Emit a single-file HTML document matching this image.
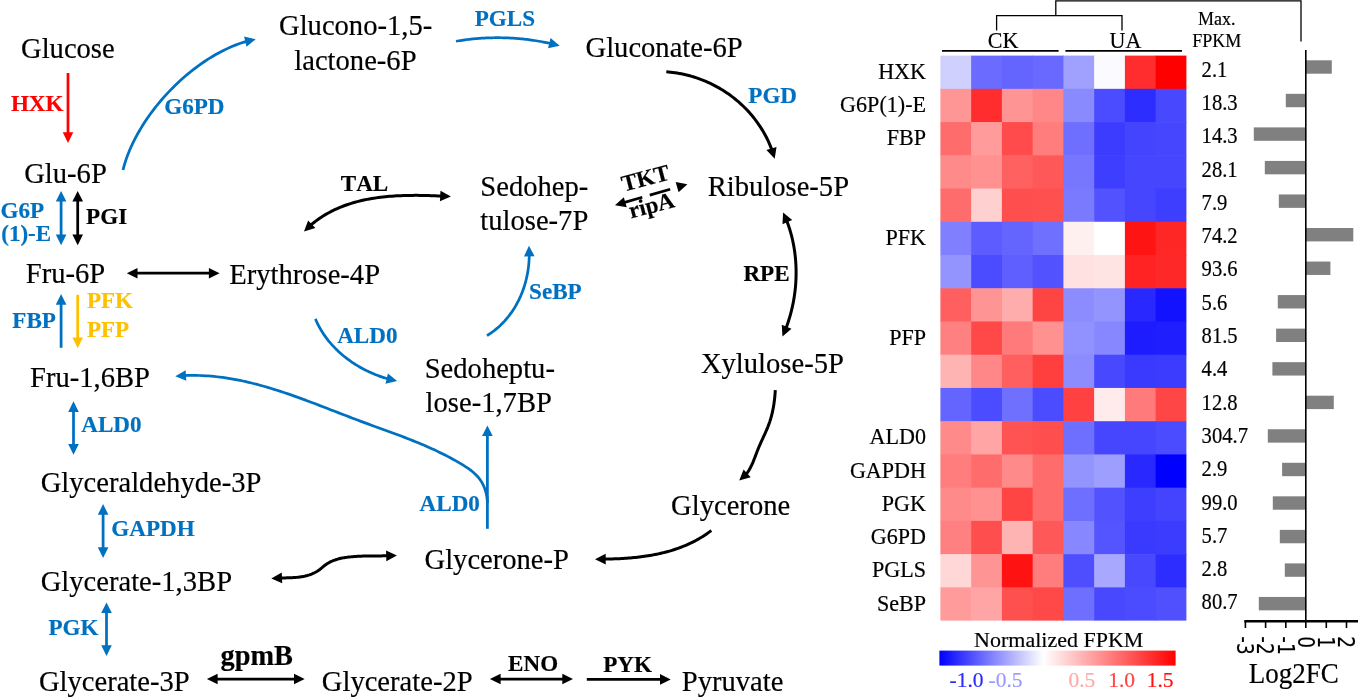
<!DOCTYPE html>
<html lang="en"><head><meta charset="utf-8"><title>Pathway and heatmap</title>
<style>
html,body{margin:0;padding:0;background:#fff}
svg{display:block}
.ts{font-family:"Liberation Serif","Times New Roman",serif}
.ss{font-family:"Liberation Sans",Arial,sans-serif}
.dj{font-family:"DejaVu Sans","Liberation Sans",sans-serif}
.b{font-weight:bold}
text{font-kerning:none;stroke-width:.18px}
</style></head><body>
<svg width="1358" height="700" viewBox="0 0 1358 700">
<rect width="1358" height="700" fill="#fff"/>
<text class="ts" transform="translate(21 58.3) scale(1 1.05)" font-size="28.6" stroke="#000">Glucose</text>
<text class="ts" transform="translate(24.2 182.8) scale(1 1.05)" font-size="28.6" stroke="#000">Glu-6P</text>
<text class="ts" transform="translate(25.8 283) scale(1 1.05)" font-size="28.6" stroke="#000">Fru-6P</text>
<text class="ts" transform="translate(30 387.3) scale(1 1.05)" font-size="28.6" stroke="#000">Fru-1,6BP</text>
<text class="ts" transform="translate(40.7 492) scale(1 1.05)" font-size="28.6" stroke="#000">Glyceraldehyde-3P</text>
<text class="ts" transform="translate(40.7 591.2) scale(1 1.05)" font-size="28.6" stroke="#000">Glycerate-1,3BP</text>
<text class="ts" transform="translate(38.9 690.6) scale(1 1.05)" font-size="28.6" stroke="#000">Glycerate-3P</text>
<text class="ts" transform="translate(279 35.1) scale(1 1.05)" font-size="28.6" stroke="#000">Glucono-1,5-</text>
<text class="ts" transform="translate(294.3 69.7) scale(1 1.05)" font-size="28.6" stroke="#000">lactone-6P</text>
<text class="ts" transform="translate(585.5 56.6) scale(1 1.05)" font-size="28.6" stroke="#000">Gluconate-6P</text>
<text class="ts" transform="translate(229.2 284.3) scale(1 1.05)" font-size="28.6" stroke="#000">Erythrose-4P</text>
<text class="ts" transform="translate(480.3 195.9) scale(1 1.05)" font-size="28.6" stroke="#000">Sedohep-</text>
<text class="ts" transform="translate(480.3 229.9) scale(1 1.05)" font-size="28.6" stroke="#000">tulose-7P</text>
<text class="ts" transform="translate(707.7 195.5) scale(1 1.05)" font-size="28.6" stroke="#000">Ribulose-5P</text>
<text class="ts" transform="translate(424.7 378) scale(1 1.05)" font-size="28.6" stroke="#000">Sedoheptu-</text>
<text class="ts" transform="translate(425.6 411.6) scale(1 1.05)" font-size="28.6" stroke="#000">lose-1,7BP</text>
<text class="ts" transform="translate(700.9 373.3) scale(1 1.05)" font-size="28.6" stroke="#000">Xylulose-5P</text>
<text class="ts" transform="translate(671.1 515.3) scale(1 1.05)" font-size="28.6" stroke="#000">Glycerone</text>
<text class="ts" transform="translate(424.5 569.3) scale(1 1.05)" font-size="28.6" stroke="#000">Glycerone-P</text>
<text class="ts" transform="translate(321.8 691) scale(1 1.05)" font-size="28.6" stroke="#000">Glycerate-2P</text>
<text class="ts" transform="translate(681.8 691.1) scale(1 1.05)" font-size="28.6" stroke="#000">Pyruvate</text>
<text class="ts b" transform="translate(10.9 110.8) scale(1 1.04)" font-size="23.1" fill="#FF0000" stroke="#FF0000">HXK</text>
<text class="ts b" transform="translate(164.2 114) scale(1 1.04)" font-size="23.1" fill="#0070C0" stroke="#0070C0">G6PD</text>
<text class="ts b" transform="translate(0.5 218.3) scale(1 1.04)" font-size="23.1" fill="#0070C0" stroke="#0070C0">G6P</text>
<text class="ts b" transform="translate(1.2 241) scale(1 1.04)" font-size="23.1" fill="#0070C0" stroke="#0070C0">(1)-E</text>
<text class="ts b" transform="translate(86.1 223.9) scale(1 1.04)" font-size="23.1" stroke="#000">PGI</text>
<text class="ts b" transform="translate(12.3 328) scale(1 1.04)" font-size="23.1" fill="#0070C0" stroke="#0070C0">FBP</text>
<text class="ts b" transform="translate(86.9 308.4) scale(1 1.04)" font-size="23.1" fill="#FFC000" stroke="#FFC000">PFK</text>
<text class="ts b" transform="translate(86.9 336.8) scale(1 1.04)" font-size="23.1" fill="#FFC000" stroke="#FFC000">PFP</text>
<text class="ts b" transform="translate(81.3 432.2) scale(1 1.04)" font-size="23.1" fill="#0070C0" stroke="#0070C0">ALD0</text>
<text class="ts b" transform="translate(111.3 535.6) scale(1 1.04)" font-size="23.1" fill="#0070C0" stroke="#0070C0">GAPDH</text>
<text class="ts b" transform="translate(48.5 635.4) scale(1 1.04)" font-size="23.1" fill="#0070C0" stroke="#0070C0">PGK</text>
<text class="ts b" transform="translate(474.7 26.1) scale(1 1.04)" font-size="23.1" fill="#0070C0" stroke="#0070C0">PGLS</text>
<text class="ts b" transform="translate(748.3 103) scale(1 1.04)" font-size="23.1" fill="#0070C0" stroke="#0070C0">PGD</text>
<text class="ts b" transform="translate(340.8 190.6) scale(1 1.04)" font-size="23.1" stroke="#000">TAL</text>
<text class="ts b" transform="translate(529.1 299) scale(1 1.04)" font-size="23.1" fill="#0070C0" stroke="#0070C0">SeBP</text>
<text class="ts b" transform="translate(337.2 343.1) scale(1 1.04)" font-size="23.1" fill="#0070C0" stroke="#0070C0">ALD0</text>
<text class="ts b" transform="translate(419.6 511) scale(1 1.04)" font-size="23.1" fill="#0070C0" stroke="#0070C0">ALD0</text>
<text class="ts b" transform="translate(743.4 280.6) scale(1 1.04)" font-size="23.1" stroke="#000">RPE</text>
<text class="ts b" transform="translate(508.1 670.5) scale(1 1.04)" font-size="23.1" stroke="#000">ENO</text>
<text class="ts b" transform="translate(603.2 671.7) scale(1 1.04)" font-size="23.1" stroke="#000">PYK</text>
<text class="ts b" transform="translate(220.6 665.3) scale(1 1.03)" font-size="28.3" stroke="#000">gpmB</text>
<text class="ts b" x="623.7" y="191.7" font-size="23.1" stroke="#000" transform="rotate(-14.5 623.7 191.7)">TKT</text>
<text class="ts b" x="631" y="218.4" font-size="23.1" stroke="#000" transform="rotate(-14.5 631 218.4)">ripA</text>
<polygon points="68,143 62.7,132.3 73.3,132.3" fill="#FF0000"/>
<path d="M68 73 L68 134" fill="none" stroke="#FF0000" stroke-width="2.75"/>
<polygon points="61.1,245.2 55.8,234.5 66.4,234.5" fill="#0070C0"/>
<polygon points="61.1,190.9 66.4,201.6 55.8,201.6" fill="#0070C0"/>
<path d="M61.1 199.9 L61.1 236.2" fill="none" stroke="#0070C0" stroke-width="2.75"/>
<polygon points="77.7,245.2 72.4,234.5 83,234.5" fill="#000000"/>
<polygon points="77.7,190.9 83,201.6 72.4,201.6" fill="#000000"/>
<path d="M77.7 199.9 L77.7 236.2" fill="none" stroke="#000000" stroke-width="2.75"/>
<polygon points="219.6,273.2 208.9,278.5 208.9,267.9" fill="#000000"/>
<polygon points="126.8,273.2 137.5,267.9 137.5,278.5" fill="#000000"/>
<path d="M135.8 273.2 L210.6 273.2" fill="none" stroke="#000000" stroke-width="2.75"/>
<polygon points="61.1,294 66.4,304.7 55.8,304.7" fill="#0070C0"/>
<path d="M61.1 347.8 L61.1 303" fill="none" stroke="#0070C0" stroke-width="2.75"/>
<polygon points="77.7,348.2 72.4,337.5 83,337.5" fill="#FFC000"/>
<path d="M77.7 294.8 L77.7 339.2" fill="none" stroke="#FFC000" stroke-width="2.75"/>
<polygon points="73.5,454.8 68.2,444.1 78.8,444.1" fill="#0070C0"/>
<polygon points="73.5,401.2 78.8,411.9 68.2,411.9" fill="#0070C0"/>
<path d="M73.5 410.2 L73.5 445.8" fill="none" stroke="#0070C0" stroke-width="2.75"/>
<polygon points="103.1,557.9 97.8,547.2 108.4,547.2" fill="#0070C0"/>
<polygon points="103.1,504.1 108.4,514.8 97.8,514.8" fill="#0070C0"/>
<path d="M103.1 513.1 L103.1 548.9" fill="none" stroke="#0070C0" stroke-width="2.75"/>
<polygon points="106.5,655.9 101.2,645.2 111.8,645.2" fill="#0070C0"/>
<polygon points="106.5,602.4 111.8,613.1 101.2,613.1" fill="#0070C0"/>
<path d="M106.5 611.4 L106.5 646.9" fill="none" stroke="#0070C0" stroke-width="2.75"/>
<polygon points="304.7,679 294,684.3 294,673.7" fill="#000000"/>
<polygon points="206.9,679 217.6,673.7 217.6,684.3" fill="#000000"/>
<path d="M215.9 679 L295.7 679" fill="none" stroke="#000000" stroke-width="2.75"/>
<polygon points="573,679 562.3,684.3 562.3,673.7" fill="#000000"/>
<polygon points="489.9,679 500.6,673.7 500.6,684.3" fill="#000000"/>
<path d="M498.9 679 L564 679" fill="none" stroke="#000000" stroke-width="2.75"/>
<polygon points="670.7,679.4 660,684.7 660,674.1" fill="#000000"/>
<path d="M586.8 679.4 L661.7 679.4" fill="none" stroke="#000000" stroke-width="2.75"/>
<polygon points="487.4,425.4 492.7,436.1 482.1,436.1" fill="#0070C0"/>
<path d="M487.4 528.8 L487.4 434.4" fill="none" stroke="#0070C0" stroke-width="2.75"/>
<polygon points="255.7,39.2 246.52,46.83 244.06,36.52" fill="#0070C0"/>
<path d="M123 170 L123.73 167.18 L124.54 164.35 L125.42 161.51 L126.38 158.66 L127.41 155.81 L128.51 152.96 L129.68 150.1 L130.92 147.25 L132.23 144.39 L133.61 141.54 L135.05 138.69 L136.55 135.85 L138.12 133.02 L139.74 130.2 L141.43 127.39 L143.17 124.59 L144.97 121.8 L146.82 119.04 L148.73 116.29 L150.69 113.56 L152.7 110.85 L154.76 108.16 L156.87 105.5 L159.03 102.86 L161.23 100.25 L163.47 97.68 L165.75 95.13 L168.08 92.61 L170.45 90.13 L172.85 87.69 L175.29 85.28 L177.77 82.91 L180.28 80.59 L182.82 78.3 L185.39 76.06 L187.99 73.87 L190.63 71.72 L193.28 69.62 L195.97 67.57 L198.67 65.58 L201.4 63.64 L204.16 61.75 L206.93 59.92 L209.72 58.15 L212.52 56.45 L215.34 54.8 L218.18 53.22 L221.03 51.7 L223.89 50.25 L226.76 48.87 L229.64 47.56 L232.52 46.32 L235.42 45.15 L238.31 44.06 L241.21 43.05 L244.11 42.12 L246.95 41.28" fill="none" stroke="#0070C0" stroke-width="2.75"/>
<polygon points="559.7,45.7 548.05,48.34 550.54,38.04" fill="#0070C0"/>
<path d="M456 41.25 L457.49 41 L458.99 40.75 L460.48 40.52 L461.98 40.29 L463.48 40.08 L464.98 39.87 L466.48 39.68 L467.99 39.49 L469.49 39.31 L471 39.15 L472.5 38.99 L474.01 38.84 L475.52 38.7 L477.03 38.57 L478.54 38.45 L480.05 38.33 L481.57 38.23 L483.08 38.14 L484.59 38.05 L486.11 37.98 L487.62 37.91 L489.14 37.86 L490.65 37.81 L492.17 37.78 L493.68 37.75 L495.2 37.73 L496.71 37.72 L498.23 37.72 L499.75 37.73 L501.26 37.75 L502.78 37.78 L504.3 37.82 L505.81 37.86 L507.33 37.92 L508.84 37.98 L510.36 38.06 L511.87 38.14 L513.38 38.24 L514.9 38.34 L516.41 38.45 L517.92 38.57 L519.43 38.7 L520.94 38.84 L522.45 38.99 L523.96 39.15 L525.46 39.32 L526.97 39.49 L528.48 39.68 L529.98 39.87 L531.48 40.08 L532.98 40.29 L534.48 40.51 L535.98 40.74 L537.48 40.99 L538.97 41.24 L540.46 41.49 L541.96 41.76 L543.45 42.04 L544.93 42.33 L546.42 42.62 L547.9 42.93 L549.39 43.24 L550.87 43.57 L550.95 43.59" fill="none" stroke="#0070C0" stroke-width="2.75"/>
<polygon points="774.7,158.7 766.4,150.12 776.5,146.9" fill="#000000"/>
<path d="M666.3 71.8 L668.47 71.97 L670.63 72.18 L672.79 72.43 L674.94 72.71 L677.08 73.04 L679.21 73.4 L681.33 73.8 L683.45 74.24 L685.55 74.71 L687.64 75.22 L689.72 75.77 L691.79 76.35 L693.85 76.97 L695.9 77.63 L697.93 78.32 L699.95 79.04 L701.95 79.8 L703.94 80.59 L705.92 81.42 L707.88 82.28 L709.82 83.17 L711.75 84.1 L713.65 85.05 L715.55 86.05 L717.42 87.07 L719.28 88.12 L721.11 89.21 L722.93 90.32 L724.73 91.47 L726.51 92.65 L728.26 93.85 L730 95.09 L731.71 96.35 L733.4 97.65 L735.07 98.97 L736.71 100.32 L738.33 101.7 L739.93 103.11 L741.5 104.54 L743.05 106 L744.57 107.49 L746.06 109.01 L747.53 110.55 L748.97 112.11 L750.38 113.71 L751.77 115.32 L753.12 116.96 L754.45 118.63 L755.75 120.32 L757.01 122.03 L758.25 123.77 L759.45 125.53 L760.63 127.32 L761.77 129.12 L762.88 130.95 L763.95 132.8 L764.99 134.67 L766 136.57 L766.98 138.48 L767.91 140.41 L768.82 142.37 L769.68 144.34 L770.51 146.34 L771.31 148.35 L771.97 150.13" fill="none" stroke="#000000" stroke-width="3"/>
<polygon points="450.9,196.5 439.95,201.27 440.47,190.68" fill="#000000"/>
<polygon points="304,231.6 308.1,220.39 315.4,228.07" fill="#000000"/>
<path d="M310.52 225.4 L310.76 225.19 L312.51 223.71 L314.29 222.27 L316.09 220.89 L317.91 219.55 L319.76 218.25 L321.63 217.01 L323.52 215.8 L325.43 214.64 L327.37 213.52 L329.32 212.44 L331.29 211.4 L333.28 210.41 L335.29 209.45 L337.31 208.54 L339.36 207.66 L341.42 206.81 L343.49 206.01 L345.58 205.24 L347.69 204.51 L349.81 203.81 L351.94 203.15 L354.09 202.51 L356.25 201.91 L358.42 201.35 L360.6 200.81 L362.79 200.31 L365 199.83 L367.21 199.38 L369.43 198.96 L371.67 198.57 L373.91 198.21 L376.15 197.87 L378.41 197.55 L380.67 197.26 L382.94 197 L385.21 196.75 L387.48 196.53 L389.77 196.34 L392.05 196.16 L394.34 196 L396.63 195.86 L398.92 195.74 L401.21 195.64 L403.51 195.56 L405.8 195.49 L408.1 195.44 L410.39 195.4 L412.68 195.38 L414.97 195.37 L417.26 195.37 L419.55 195.39 L421.83 195.42 L424.11 195.46 L426.38 195.51 L428.64 195.57 L430.91 195.63 L433.16 195.71 L435.41 195.79 L437.65 195.88 L439.88 195.97 L441.91 196.06" fill="none" stroke="#000000" stroke-width="3"/>
<polygon points="782.5,336.6 781.71,324.69 791.5,328.75" fill="#000000"/>
<polygon points="783.1,212.4 792.21,220.12 782.48,224.32" fill="#000000"/>
<path d="M786.67 220.66 L786.74 220.85 L787.4 222.58 L788.03 224.31 L788.64 226.05 L789.22 227.8 L789.78 229.57 L790.31 231.33 L790.82 233.11 L791.31 234.9 L791.77 236.69 L792.21 238.49 L792.62 240.29 L793.01 242.11 L793.38 243.93 L793.72 245.75 L794.04 247.58 L794.34 249.41 L794.61 251.25 L794.86 253.1 L795.09 254.95 L795.29 256.8 L795.48 258.65 L795.63 260.51 L795.77 262.37 L795.88 264.23 L795.97 266.1 L796.04 267.96 L796.08 269.83 L796.1 271.7 L796.1 273.57 L796.08 275.43 L796.03 277.3 L795.97 279.17 L795.88 281.04 L795.77 282.9 L795.63 284.77 L795.48 286.63 L795.3 288.49 L795.1 290.35 L794.88 292.2 L794.64 294.06 L794.37 295.9 L794.09 297.75 L793.78 299.59 L793.45 301.42 L793.1 303.25 L792.73 305.07 L792.34 306.89 L791.92 308.71 L791.49 310.51 L791.03 312.31 L790.56 314.1 L790.06 315.89 L789.54 317.67 L789 319.43 L788.44 321.2 L787.87 322.95 L787.27 324.69 L786.65 326.42 L786.01 328.15 L785.95 328.29" fill="none" stroke="#000000" stroke-width="3"/>
<polygon points="528.9,245.7 534.6,256.19 524,256.59" fill="#0070C0"/>
<path d="M487 335.6 L488.31 334.78 L489.6 333.93 L490.87 333.06 L492.12 332.17 L493.35 331.26 L494.56 330.33 L495.74 329.38 L496.91 328.41 L498.06 327.42 L499.19 326.41 L500.29 325.38 L501.38 324.33 L502.45 323.27 L503.49 322.18 L504.52 321.08 L505.52 319.96 L506.5 318.83 L507.47 317.68 L508.41 316.51 L509.33 315.33 L510.23 314.13 L511.11 312.91 L511.98 311.69 L512.81 310.44 L513.63 309.19 L514.43 307.92 L515.21 306.64 L515.97 305.34 L516.7 304.03 L517.42 302.71 L518.11 301.38 L518.78 300.04 L519.44 298.68 L520.07 297.32 L520.68 295.94 L521.27 294.56 L521.84 293.16 L522.39 291.76 L522.92 290.35 L523.42 288.93 L523.91 287.5 L524.37 286.06 L524.81 284.62 L525.24 283.17 L525.64 281.71 L526.02 280.25 L526.38 278.78 L526.71 277.3 L527.03 275.82 L527.33 274.34 L527.6 272.85 L527.85 271.36 L528.09 269.86 L528.3 268.36 L528.49 266.86 L528.66 265.35 L528.8 263.84 L528.93 262.33 L529.03 260.82 L529.12 259.31 L529.18 257.79 L529.22 256.28 L529.24 254.77 L529.24 254.69" fill="none" stroke="#0070C0" stroke-width="2.75"/>
<polygon points="397.1,381.1 385.45,383.73 387.95,373.43" fill="#0070C0"/>
<path d="M315.4 318.9 L316.01 320.33 L316.65 321.75 L317.31 323.15 L318 324.54 L318.71 325.92 L319.44 327.28 L320.2 328.62 L320.98 329.96 L321.78 331.27 L322.6 332.58 L323.44 333.87 L324.31 335.14 L325.19 336.4 L326.1 337.64 L327.02 338.87 L327.97 340.09 L328.93 341.29 L329.92 342.47 L330.92 343.64 L331.94 344.8 L332.98 345.94 L334.04 347.06 L335.11 348.17 L336.2 349.26 L337.31 350.34 L338.43 351.4 L339.57 352.44 L340.72 353.47 L341.89 354.49 L343.07 355.48 L344.27 356.46 L345.49 357.43 L346.71 358.38 L347.95 359.31 L349.21 360.23 L350.47 361.13 L351.75 362.01 L353.04 362.88 L354.34 363.73 L355.65 364.56 L356.98 365.38 L358.31 366.18 L359.66 366.96 L361.01 367.72 L362.38 368.47 L363.75 369.2 L365.13 369.92 L366.53 370.62 L367.92 371.29 L369.33 371.96 L370.75 372.6 L372.17 373.23 L373.6 373.83 L375.03 374.43 L376.47 375 L377.92 375.55 L379.37 376.09 L380.83 376.61 L382.29 377.11 L383.76 377.59 L385.23 378.06 L386.7 378.5 L388.18 378.93 L388.36 378.98" fill="none" stroke="#0070C0" stroke-width="2.75"/>
<polygon points="175.3,376.2 185.62,370.2 186.33,380.78" fill="#0070C0"/>
<path d="M487.4 503 L487.22 499.88 L486.85 496.82 L486.29 493.85 L485.54 490.95 L484.6 488.16 L483.47 485.47 L482.16 482.9 L480.65 480.46 L478.96 478.15 L477.08 475.99 L475.05 473.94 L472.88 472.01 L470.59 470.18 L468.21 468.44 L465.74 466.78 L463.22 465.17 L460.66 463.62 L458.08 462.11 L455.49 460.63 L452.89 459.18 L450.27 457.77 L447.65 456.38 L445.02 455.02 L442.37 453.7 L439.72 452.4 L437.06 451.12 L434.39 449.87 L431.71 448.64 L429.02 447.43 L426.33 446.25 L423.63 445.08 L420.92 443.94 L418.2 442.81 L415.48 441.7 L412.75 440.6 L410.02 439.52 L407.28 438.45 L404.54 437.39 L401.79 436.34 L399.04 435.3 L396.28 434.27 L393.52 433.25 L390.76 432.23 L388 431.22 L385.23 430.21 L382.46 429.2 L379.69 428.19 L376.91 427.19 L374.14 426.18 L371.37 425.17 L368.59 424.16 L365.82 423.14 L363.04 422.12 L360.27 421.09 L357.49 420.06 L354.72 419.01 L351.95 417.96 L349.18 416.9 L346.41 415.84 L343.64 414.77 L340.88 413.7 L338.11 412.63 L335.34 411.56 L332.57 410.48 L329.8 409.41 L327.03 408.34 L324.26 407.26 L321.49 406.2 L318.72 405.13 L315.94 404.07 L313.17 403.02 L310.39 401.97 L307.62 400.93 L304.84 399.9 L302.05 398.87 L299.27 397.86 L296.48 396.86 L293.7 395.86 L290.9 394.89 L288.11 393.92 L285.31 392.97 L282.51 392.04 L279.71 391.12 L276.9 390.21 L274.09 389.33 L271.28 388.46 L268.46 387.62 L265.64 386.79 L262.82 385.99 L259.99 385.21 L257.15 384.45 L254.31 383.71 L251.47 383 L248.62 382.32 L245.76 381.66 L242.9 381.03 L240.04 380.43 L237.17 379.86 L234.29 379.32 L231.41 378.81 L228.52 378.33 L225.63 377.88 L222.72 377.47 L219.82 377.1 L216.9 376.75 L213.98 376.45 L211.05 376.18 L208.12 375.95 L205.17 375.76 L202.22 375.61 L199.26 375.5 L196.3 375.43 L193.32 375.41 L190.34 375.43 L187.35 375.49 L184.35 375.6 L184.28 375.6" fill="none" stroke="#0070C0" stroke-width="2.75"/>
<polygon points="739.2,480.6 743.59,469.5 750.69,477.36" fill="#000000"/>
<path d="M775.3 390.2 L775.21 391.63 L775.11 393.06 L775 394.49 L774.88 395.93 L774.74 397.36 L774.59 398.8 L774.42 400.24 L774.24 401.67 L774.04 403.1 L773.83 404.53 L773.6 405.96 L773.35 407.39 L773.09 408.81 L772.81 410.23 L772.51 411.64 L772.19 413.05 L771.86 414.45 L771.5 415.84 L771.13 417.23 L770.73 418.62 L770.31 419.99 L769.88 421.36 L769.42 422.71 L768.94 424.06 L768.43 425.4 L767.92 426.74 L767.38 428.06 L766.83 429.38 L766.27 430.7 L765.69 432.01 L765.11 433.32 L764.52 434.63 L763.92 435.94 L763.33 437.24 L762.72 438.55 L762.12 439.85 L761.52 441.16 L760.93 442.47 L760.34 443.79 L759.75 445.11 L759.18 446.43 L758.61 447.77 L758.06 449.1 L757.52 450.45 L756.99 451.8 L756.48 453.16 L755.96 454.52 L755.45 455.87 L754.94 457.23 L754.42 458.58 L753.89 459.92 L753.35 461.26 L752.8 462.59 L752.22 463.9 L751.63 465.19 L751.01 466.47 L750.36 467.74 L749.68 468.97 L748.97 470.19 L748.22 471.38 L747.43 472.54 L746.59 473.68 L745.86 474.59" fill="none" stroke="#000000" stroke-width="3"/>
<polygon points="595,559.2 605.66,553.82 605.74,564.42" fill="#000000"/>
<path d="M711.3 530.5 L709.86 531.59 L708.4 532.66 L706.93 533.7 L705.45 534.71 L703.96 535.69 L702.45 536.65 L700.94 537.59 L699.41 538.49 L697.87 539.37 L696.33 540.23 L694.77 541.06 L693.2 541.87 L691.63 542.66 L690.04 543.42 L688.44 544.15 L686.84 544.87 L685.22 545.56 L683.6 546.23 L681.97 546.88 L680.33 547.5 L678.69 548.11 L677.03 548.69 L675.37 549.26 L673.7 549.8 L672.03 550.33 L670.34 550.83 L668.65 551.32 L666.96 551.78 L665.26 552.23 L663.55 552.66 L661.84 553.08 L660.12 553.47 L658.4 553.85 L656.67 554.22 L654.94 554.56 L653.2 554.89 L651.46 555.21 L649.72 555.51 L647.97 555.79 L646.22 556.06 L644.46 556.32 L642.7 556.56 L640.94 556.79 L639.18 557.01 L637.42 557.21 L635.65 557.4 L633.88 557.58 L632.11 557.75 L630.34 557.91 L628.57 558.05 L626.79 558.19 L625.02 558.31 L623.24 558.43 L621.47 558.53 L619.69 558.63 L617.92 558.72 L616.15 558.79 L614.37 558.86 L612.6 558.93 L610.83 558.98 L609.06 559.03 L607.3 559.07 L605.53 559.11 L604 559.13" fill="none" stroke="#000000" stroke-width="3"/>
<polygon points="396.9,555.6 386.34,561.17 386.07,550.57" fill="#000000"/>
<polygon points="271.3,578.4 281.75,572.62 282.23,583.21" fill="#000000"/>
<path d="M280.29 577.99 L281.07 577.97 L282.17 577.95 L283.28 577.93 L284.39 577.91 L285.5 577.89 L286.62 577.87 L287.73 577.84 L288.84 577.81 L289.96 577.78 L291.07 577.73 L292.18 577.68 L293.29 577.62 L294.4 577.55 L295.51 577.47 L296.61 577.37 L297.71 577.26 L298.81 577.14 L299.9 577 L300.99 576.84 L302.07 576.67 L303.15 576.47 L304.22 576.26 L305.29 576.02 L306.34 575.76 L307.4 575.48 L308.44 575.17 L309.47 574.84 L310.49 574.48 L311.51 574.09 L312.51 573.68 L313.5 573.24 L314.48 572.77 L315.44 572.26 L316.39 571.73 L317.32 571.16 L318.24 570.56 L319.14 569.93 L320.03 569.27 L320.9 568.57 L321.77 567.87 L322.63 567.16 L323.49 566.45 L324.36 565.75 L325.23 565.07 L326.12 564.43 L327.03 563.82 L327.95 563.24 L328.88 562.7 L329.83 562.18 L330.79 561.7 L331.77 561.25 L332.75 560.82 L333.75 560.42 L334.76 560.05 L335.78 559.71 L336.81 559.38 L337.84 559.08 L338.89 558.8 L339.94 558.55 L341 558.31 L342.07 558.09 L343.14 557.89 L344.22 557.7 L345.3 557.53 L346.39 557.37 L347.48 557.23 L348.57 557.1 L349.67 556.98 L350.76 556.87 L351.86 556.76 L352.96 556.67 L354.06 556.58 L355.16 556.5 L356.26 556.43 L357.36 556.36 L358.46 556.3 L359.56 556.25 L360.66 556.2 L361.76 556.15 L362.86 556.11 L363.96 556.08 L365.07 556.05 L366.17 556.02 L367.27 556 L368.37 555.98 L369.47 555.96 L370.57 555.95 L371.67 555.93 L372.77 555.92 L373.87 555.92 L374.97 555.91 L376.07 555.9 L377.18 555.9 L378.27 555.89 L379.37 555.89 L380.47 555.89 L381.57 555.88 L382.67 555.87 L383.77 555.87 L384.87 555.86 L385.96 555.85 L387.06 555.84 L387.9 555.83" fill="none" stroke="#000000" stroke-width="3"/>
<polygon points="615,205.2 623.8,197.13 626.75,207.31" fill="#000000"/>
<polygon points="687.4,184.2 678.6,192.27 675.65,182.09" fill="#000000"/>
<path d="M623 202.88 L642.3 197.28" fill="none" stroke="#000" stroke-width="2.7"/>
<path d="M649.8 195.11 L670.2 189.19" fill="none" stroke="#000" stroke-width="2.7"/>
<g>
<rect x="940.4" y="55.6" width="31.35" height="33.84" fill="#d0d0ff"/>
<rect x="971.15" y="55.6" width="31.35" height="33.84" fill="#6b6bff"/>
<rect x="1001.9" y="55.6" width="31.35" height="33.84" fill="#6464ff"/>
<rect x="1032.65" y="55.6" width="31.35" height="33.84" fill="#6969ff"/>
<rect x="1063.4" y="55.6" width="31.35" height="33.84" fill="#a0a0ff"/>
<rect x="1094.15" y="55.6" width="31.35" height="33.84" fill="#fafaff"/>
<rect x="1124.9" y="55.6" width="31.35" height="33.84" fill="#ff2d2d"/>
<rect x="1155.65" y="55.6" width="30.75" height="33.84" fill="#ff0000"/>
<rect x="940.4" y="88.84" width="31.35" height="33.84" fill="#ff9696"/>
<rect x="971.15" y="88.84" width="31.35" height="33.84" fill="#ff2d2d"/>
<rect x="1001.9" y="88.84" width="31.35" height="33.84" fill="#ff9494"/>
<rect x="1032.65" y="88.84" width="31.35" height="33.84" fill="#ff8787"/>
<rect x="1063.4" y="88.84" width="31.35" height="33.84" fill="#8a8aff"/>
<rect x="1094.15" y="88.84" width="31.35" height="33.84" fill="#4b4bff"/>
<rect x="1124.9" y="88.84" width="31.35" height="33.84" fill="#2d2dff"/>
<rect x="1155.65" y="88.84" width="30.75" height="33.84" fill="#4848ff"/>
<rect x="940.4" y="122.07" width="31.35" height="33.84" fill="#ff6c6c"/>
<rect x="971.15" y="122.07" width="31.35" height="33.84" fill="#ff9b9b"/>
<rect x="1001.9" y="122.07" width="31.35" height="33.84" fill="#ff4b4b"/>
<rect x="1032.65" y="122.07" width="31.35" height="33.84" fill="#ff7d7d"/>
<rect x="1063.4" y="122.07" width="31.35" height="33.84" fill="#6e6eff"/>
<rect x="1094.15" y="122.07" width="31.35" height="33.84" fill="#3c3cff"/>
<rect x="1124.9" y="122.07" width="31.35" height="33.84" fill="#4444ff"/>
<rect x="1155.65" y="122.07" width="30.75" height="33.84" fill="#4646ff"/>
<rect x="940.4" y="155.31" width="31.35" height="33.84" fill="#ff8a8a"/>
<rect x="971.15" y="155.31" width="31.35" height="33.84" fill="#ff9191"/>
<rect x="1001.9" y="155.31" width="31.35" height="33.84" fill="#ff6161"/>
<rect x="1032.65" y="155.31" width="31.35" height="33.84" fill="#ff5858"/>
<rect x="1063.4" y="155.31" width="31.35" height="33.84" fill="#7676ff"/>
<rect x="1094.15" y="155.31" width="31.35" height="33.84" fill="#3e3eff"/>
<rect x="1124.9" y="155.31" width="31.35" height="33.84" fill="#4646ff"/>
<rect x="1155.65" y="155.31" width="30.75" height="33.84" fill="#4646ff"/>
<rect x="940.4" y="188.54" width="31.35" height="33.84" fill="#ff6c6c"/>
<rect x="971.15" y="188.54" width="31.35" height="33.84" fill="#ffd0d0"/>
<rect x="1001.9" y="188.54" width="31.35" height="33.84" fill="#ff4e4e"/>
<rect x="1032.65" y="188.54" width="31.35" height="33.84" fill="#ff5050"/>
<rect x="1063.4" y="188.54" width="31.35" height="33.84" fill="#7a7aff"/>
<rect x="1094.15" y="188.54" width="31.35" height="33.84" fill="#5252ff"/>
<rect x="1124.9" y="188.54" width="31.35" height="33.84" fill="#4646ff"/>
<rect x="1155.65" y="188.54" width="30.75" height="33.84" fill="#3e3eff"/>
<rect x="940.4" y="221.78" width="31.35" height="33.84" fill="#8080ff"/>
<rect x="971.15" y="221.78" width="31.35" height="33.84" fill="#5c5cff"/>
<rect x="1001.9" y="221.78" width="31.35" height="33.84" fill="#6464ff"/>
<rect x="1032.65" y="221.78" width="31.35" height="33.84" fill="#7070ff"/>
<rect x="1063.4" y="221.78" width="31.35" height="33.84" fill="#fff0f0"/>
<rect x="1094.15" y="221.78" width="31.35" height="33.84" fill="#ffffff"/>
<rect x="1124.9" y="221.78" width="31.35" height="33.84" fill="#ff1414"/>
<rect x="1155.65" y="221.78" width="30.75" height="33.84" fill="#ff2626"/>
<rect x="940.4" y="255.01" width="31.35" height="33.84" fill="#9494ff"/>
<rect x="971.15" y="255.01" width="31.35" height="33.84" fill="#4b4bff"/>
<rect x="1001.9" y="255.01" width="31.35" height="33.84" fill="#5f5fff"/>
<rect x="1032.65" y="255.01" width="31.35" height="33.84" fill="#5252ff"/>
<rect x="1063.4" y="255.01" width="31.35" height="33.84" fill="#ffe1e1"/>
<rect x="1094.15" y="255.01" width="31.35" height="33.84" fill="#ffe4e4"/>
<rect x="1124.9" y="255.01" width="31.35" height="33.84" fill="#ff2323"/>
<rect x="1155.65" y="255.01" width="30.75" height="33.84" fill="#ff2828"/>
<rect x="940.4" y="288.25" width="31.35" height="33.84" fill="#ff5f5f"/>
<rect x="971.15" y="288.25" width="31.35" height="33.84" fill="#ff9494"/>
<rect x="1001.9" y="288.25" width="31.35" height="33.84" fill="#ffacac"/>
<rect x="1032.65" y="288.25" width="31.35" height="33.84" fill="#ff4444"/>
<rect x="1063.4" y="288.25" width="31.35" height="33.84" fill="#8c8cff"/>
<rect x="1094.15" y="288.25" width="31.35" height="33.84" fill="#9494ff"/>
<rect x="1124.9" y="288.25" width="31.35" height="33.84" fill="#2828ff"/>
<rect x="1155.65" y="288.25" width="30.75" height="33.84" fill="#1212ff"/>
<rect x="940.4" y="321.48" width="31.35" height="33.84" fill="#ff8080"/>
<rect x="971.15" y="321.48" width="31.35" height="33.84" fill="#ff4848"/>
<rect x="1001.9" y="321.48" width="31.35" height="33.84" fill="#ff7a7a"/>
<rect x="1032.65" y="321.48" width="31.35" height="33.84" fill="#ff9191"/>
<rect x="1063.4" y="321.48" width="31.35" height="33.84" fill="#9191ff"/>
<rect x="1094.15" y="321.48" width="31.35" height="33.84" fill="#8787ff"/>
<rect x="1124.9" y="321.48" width="31.35" height="33.84" fill="#1c1cff"/>
<rect x="1155.65" y="321.48" width="30.75" height="33.84" fill="#1e1eff"/>
<rect x="940.4" y="354.72" width="31.35" height="33.84" fill="#ffb4b4"/>
<rect x="971.15" y="354.72" width="31.35" height="33.84" fill="#ff8787"/>
<rect x="1001.9" y="354.72" width="31.35" height="33.84" fill="#ff5f5f"/>
<rect x="1032.65" y="354.72" width="31.35" height="33.84" fill="#ff3e3e"/>
<rect x="1063.4" y="354.72" width="31.35" height="33.84" fill="#8c8cff"/>
<rect x="1094.15" y="354.72" width="31.35" height="33.84" fill="#4848ff"/>
<rect x="1124.9" y="354.72" width="31.35" height="33.84" fill="#3a3aff"/>
<rect x="1155.65" y="354.72" width="30.75" height="33.84" fill="#3c3cff"/>
<rect x="940.4" y="387.95" width="31.35" height="33.84" fill="#6464ff"/>
<rect x="971.15" y="387.95" width="31.35" height="33.84" fill="#4b4bff"/>
<rect x="1001.9" y="387.95" width="31.35" height="33.84" fill="#7070ff"/>
<rect x="1032.65" y="387.95" width="31.35" height="33.84" fill="#4b4bff"/>
<rect x="1063.4" y="387.95" width="31.35" height="33.84" fill="#ff4141"/>
<rect x="1094.15" y="387.95" width="31.35" height="33.84" fill="#ffebeb"/>
<rect x="1124.9" y="387.95" width="31.35" height="33.84" fill="#ff7a7a"/>
<rect x="1155.65" y="387.95" width="30.75" height="33.84" fill="#ff4646"/>
<rect x="940.4" y="421.19" width="31.35" height="33.84" fill="#ff8a8a"/>
<rect x="971.15" y="421.19" width="31.35" height="33.84" fill="#ffa5a5"/>
<rect x="1001.9" y="421.19" width="31.35" height="33.84" fill="#ff5252"/>
<rect x="1032.65" y="421.19" width="31.35" height="33.84" fill="#ff4e4e"/>
<rect x="1063.4" y="421.19" width="31.35" height="33.84" fill="#6e6eff"/>
<rect x="1094.15" y="421.19" width="31.35" height="33.84" fill="#4646ff"/>
<rect x="1124.9" y="421.19" width="31.35" height="33.84" fill="#4646ff"/>
<rect x="1155.65" y="421.19" width="30.75" height="33.84" fill="#4b4bff"/>
<rect x="940.4" y="454.42" width="31.35" height="33.84" fill="#ff7d7d"/>
<rect x="971.15" y="454.42" width="31.35" height="33.84" fill="#ff6c6c"/>
<rect x="1001.9" y="454.42" width="31.35" height="33.84" fill="#ff8a8a"/>
<rect x="1032.65" y="454.42" width="31.35" height="33.84" fill="#ff6c6c"/>
<rect x="1063.4" y="454.42" width="31.35" height="33.84" fill="#9494ff"/>
<rect x="1094.15" y="454.42" width="31.35" height="33.84" fill="#9e9eff"/>
<rect x="1124.9" y="454.42" width="31.35" height="33.84" fill="#2828ff"/>
<rect x="1155.65" y="454.42" width="30.75" height="33.84" fill="#0000ff"/>
<rect x="940.4" y="487.66" width="31.35" height="33.84" fill="#ff8a8a"/>
<rect x="971.15" y="487.66" width="31.35" height="33.84" fill="#ff9191"/>
<rect x="1001.9" y="487.66" width="31.35" height="33.84" fill="#ff4444"/>
<rect x="1032.65" y="487.66" width="31.35" height="33.84" fill="#ff6c6c"/>
<rect x="1063.4" y="487.66" width="31.35" height="33.84" fill="#6e6eff"/>
<rect x="1094.15" y="487.66" width="31.35" height="33.84" fill="#5252ff"/>
<rect x="1124.9" y="487.66" width="31.35" height="33.84" fill="#3e3eff"/>
<rect x="1155.65" y="487.66" width="30.75" height="33.84" fill="#4444ff"/>
<rect x="940.4" y="520.89" width="31.35" height="33.84" fill="#ff8080"/>
<rect x="971.15" y="520.89" width="31.35" height="33.84" fill="#ff4e4e"/>
<rect x="1001.9" y="520.89" width="31.35" height="33.84" fill="#ffb4b4"/>
<rect x="1032.65" y="520.89" width="31.35" height="33.84" fill="#ff5858"/>
<rect x="1063.4" y="520.89" width="31.35" height="33.84" fill="#8787ff"/>
<rect x="1094.15" y="520.89" width="31.35" height="33.84" fill="#5555ff"/>
<rect x="1124.9" y="520.89" width="31.35" height="33.84" fill="#3a3aff"/>
<rect x="1155.65" y="520.89" width="30.75" height="33.84" fill="#3c3cff"/>
<rect x="940.4" y="554.13" width="31.35" height="33.84" fill="#ffd7d7"/>
<rect x="971.15" y="554.13" width="31.35" height="33.84" fill="#ff9494"/>
<rect x="1001.9" y="554.13" width="31.35" height="33.84" fill="#ff1212"/>
<rect x="1032.65" y="554.13" width="31.35" height="33.84" fill="#ff7d7d"/>
<rect x="1063.4" y="554.13" width="31.35" height="33.84" fill="#4e4eff"/>
<rect x="1094.15" y="554.13" width="31.35" height="33.84" fill="#a8a8ff"/>
<rect x="1124.9" y="554.13" width="31.35" height="33.84" fill="#4848ff"/>
<rect x="1155.65" y="554.13" width="30.75" height="33.84" fill="#2d2dff"/>
<rect x="940.4" y="587.36" width="31.35" height="33.24" fill="#ff9b9b"/>
<rect x="971.15" y="587.36" width="31.35" height="33.24" fill="#ffa5a5"/>
<rect x="1001.9" y="587.36" width="31.35" height="33.24" fill="#ff5050"/>
<rect x="1032.65" y="587.36" width="31.35" height="33.24" fill="#ff4848"/>
<rect x="1063.4" y="587.36" width="31.35" height="33.24" fill="#6e6eff"/>
<rect x="1094.15" y="587.36" width="31.35" height="33.24" fill="#4848ff"/>
<rect x="1124.9" y="587.36" width="31.35" height="33.24" fill="#4b4bff"/>
<rect x="1155.65" y="587.36" width="30.75" height="33.24" fill="#5050ff"/>
</g>
<text class="ts" transform="translate(926 78.6) scale(1 1.04)" font-size="22.1" stroke="#000" text-anchor="end">HXK</text>
<text class="ts" transform="translate(926 111.85) scale(1 1.04)" font-size="22.1" stroke="#000" text-anchor="end">G6P(1)-E</text>
<text class="ts" transform="translate(926 145.1) scale(1 1.04)" font-size="22.1" stroke="#000" text-anchor="end">FBP</text>
<text class="ts" transform="translate(926 244.85) scale(1 1.04)" font-size="22.1" stroke="#000" text-anchor="end">PFK</text>
<text class="ts" transform="translate(926 344.6) scale(1 1.04)" font-size="22.1" stroke="#000" text-anchor="end">PFP</text>
<text class="ts" transform="translate(926 444.35) scale(1 1.04)" font-size="22.1" stroke="#000" text-anchor="end">ALD0</text>
<text class="ts" transform="translate(926 477.6) scale(1 1.04)" font-size="22.1" stroke="#000" text-anchor="end">GAPDH</text>
<text class="ts" transform="translate(926 510.85) scale(1 1.04)" font-size="22.1" stroke="#000" text-anchor="end">PGK</text>
<text class="ts" transform="translate(926 544.1) scale(1 1.04)" font-size="22.1" stroke="#000" text-anchor="end">G6PD</text>
<text class="ts" transform="translate(926 577.35) scale(1 1.04)" font-size="22.1" stroke="#000" text-anchor="end">PGLS</text>
<text class="ts" transform="translate(926 610.6) scale(1 1.04)" font-size="22.1" stroke="#000" text-anchor="end">SeBP</text>
<text class="ts" transform="translate(1003 48.4) scale(1 1.04)" font-size="22" stroke="#000" text-anchor="middle">CK</text>
<text class="ts" transform="translate(1125.5 48.4) scale(1 1.04)" font-size="22" stroke="#000" text-anchor="middle">UA</text>
<path d="M942 50.8H1058.6M1065.4 50.8H1182" stroke="#000" stroke-width="1.7" fill="none"/>
<path d="M1055.8 15.6V0.8H1301V41.5M996.6 30.6V15.6H1122V30.6" stroke="#000" stroke-width="1.3" fill="none"/>
<text class="ts" x="1216.8" y="25.2" font-size="18" stroke="#000" text-anchor="middle">Max.</text>
<text class="ts" x="1216.8" y="46.8" font-size="18" stroke="#000" text-anchor="middle">FPKM</text>
<text class="ts" transform="translate(1201.6 76.6) scale(1 1.07)" font-size="20.6" stroke="#000">2.1</text>
<text class="ts" transform="translate(1201.6 109.9) scale(1 1.07)" font-size="20.6" stroke="#000">18.3</text>
<text class="ts" transform="translate(1201.6 143.2) scale(1 1.07)" font-size="20.6" stroke="#000">14.3</text>
<text class="ts" transform="translate(1201.6 176.5) scale(1 1.07)" font-size="20.6" stroke="#000">28.1</text>
<text class="ts" transform="translate(1201.6 209.8) scale(1 1.07)" font-size="20.6" stroke="#000">7.9</text>
<text class="ts" transform="translate(1201.6 243.1) scale(1 1.07)" font-size="20.6" stroke="#000">74.2</text>
<text class="ts" transform="translate(1201.6 276.4) scale(1 1.07)" font-size="20.6" stroke="#000">93.6</text>
<text class="ts" transform="translate(1201.6 309.7) scale(1 1.07)" font-size="20.6" stroke="#000">5.6</text>
<text class="ts" transform="translate(1201.6 343) scale(1 1.07)" font-size="20.6" stroke="#000">81.5</text>
<text class="ts" transform="translate(1201.6 376.3) scale(1 1.07)" font-size="20.6" stroke="#000">4.4</text>
<text class="ts" transform="translate(1201.6 409.6) scale(1 1.07)" font-size="20.6" stroke="#000">12.8</text>
<text class="ts" transform="translate(1201.6 442.9) scale(1 1.07)" font-size="20.6" stroke="#000">304.7</text>
<text class="ts" transform="translate(1201.6 476.2) scale(1 1.07)" font-size="20.6" stroke="#000">2.9</text>
<text class="ts" transform="translate(1201.6 509.5) scale(1 1.07)" font-size="20.6" stroke="#000">99.0</text>
<text class="ts" transform="translate(1201.6 542.8) scale(1 1.07)" font-size="20.6" stroke="#000">5.7</text>
<text class="ts" transform="translate(1201.6 576.1) scale(1 1.07)" font-size="20.6" stroke="#000">2.8</text>
<text class="ts" transform="translate(1201.6 609.4) scale(1 1.07)" font-size="20.6" stroke="#000">80.7</text>
<rect x="1305.8" y="60.3" width="26" height="13.4" fill="#808080"/>
<rect x="1285.8" y="93.84" width="20" height="13.4" fill="#808080"/>
<rect x="1253.8" y="127.38" width="52" height="13.4" fill="#808080"/>
<rect x="1264.8" y="160.92" width="41" height="13.4" fill="#808080"/>
<rect x="1278.8" y="194.46" width="27" height="13.4" fill="#808080"/>
<rect x="1305.8" y="228" width="47.5" height="13.4" fill="#808080"/>
<rect x="1305.8" y="261.54" width="24.6" height="13.4" fill="#808080"/>
<rect x="1277.8" y="295.08" width="28" height="13.4" fill="#808080"/>
<rect x="1276.1" y="328.62" width="29.7" height="13.4" fill="#808080"/>
<rect x="1272.4" y="362.16" width="33.4" height="13.4" fill="#808080"/>
<rect x="1305.8" y="395.7" width="28" height="13.4" fill="#808080"/>
<rect x="1267.8" y="429.24" width="38" height="13.4" fill="#808080"/>
<rect x="1282.1" y="462.78" width="23.7" height="13.4" fill="#808080"/>
<rect x="1272.8" y="496.32" width="33" height="13.4" fill="#808080"/>
<rect x="1279.8" y="529.86" width="26" height="13.4" fill="#808080"/>
<rect x="1284.8" y="563.4" width="21" height="13.4" fill="#808080"/>
<rect x="1258.8" y="596.94" width="47" height="13.4" fill="#808080"/>
<path d="M1305.8 50V628" stroke="#000" stroke-width="1.6" fill="none"/>
<path d="M1244.3 621.2H1358" stroke="#000" stroke-width="2.4" fill="none"/>
<path d="M1245.4 621V628M1265.6 621V628M1285.8 621V628M1326.3 621V628M1346.5 621V628" stroke="#000" stroke-width="1.6" fill="none"/>
<text class="dj" x="0" y="0" font-size="22.6" stroke="#000" stroke-width="0.3" transform="translate(1237.2 636.2) rotate(90) scale(0.82 1)">-3</text>
<text class="dj" x="0" y="0" font-size="22.6" stroke="#000" stroke-width="0.3" transform="translate(1257.4 636.2) rotate(90) scale(0.82 1)">-2</text>
<text class="dj" x="0" y="0" font-size="22.6" stroke="#000" stroke-width="0.3" transform="translate(1277.6 636.2) rotate(90) scale(0.82 1)">-1</text>
<text class="dj" x="0" y="0" font-size="22.6" stroke="#000" stroke-width="0.3" transform="translate(1297.8 636.2) rotate(90) scale(0.82 1)">0</text>
<text class="dj" x="0" y="0" font-size="22.6" stroke="#000" stroke-width="0.3" transform="translate(1318.1 636.2) rotate(90) scale(0.82 1)">1</text>
<text class="dj" x="0" y="0" font-size="22.6" stroke="#000" stroke-width="0.3" transform="translate(1338.3 636.2) rotate(90) scale(0.82 1)">2</text>
<text class="ts" transform="translate(1293.7 682.8) scale(1 1.07)" font-size="27" stroke="#000" text-anchor="middle">Log2FC</text>
<defs><linearGradient id="cb" x1="0" x2="1" y1="0" y2="0"><stop offset="0" stop-color="#0000ff"/><stop offset="0.44" stop-color="#ffffff"/><stop offset="1" stop-color="#ff0000"/></linearGradient></defs>
<rect x="939.4" y="650.6" width="236.2" height="15" fill="url(#cb)"/>
<text class="ts" x="1058.7" y="646.6" font-size="22" stroke="#000" text-anchor="middle">Normalized FPKM</text>
<text class="ts" x="949.5" y="687.2" font-size="21.5" fill="#2a2aff" stroke="#2a2aff">-1.0</text>
<text class="ts" x="988.5" y="687.2" font-size="21.5" fill="#9a9aff" stroke="#9a9aff">-0.5</text>
<text class="ts" x="1068.4" y="687.2" font-size="21.5" fill="#ffaaaa" stroke="#ffaaaa">0.5</text>
<text class="ts" x="1108.2" y="687.2" font-size="21.5" fill="#ff4545" stroke="#ff4545">1.0</text>
<text class="ts" x="1146.7" y="687.2" font-size="21.5" fill="#ff1212" stroke="#ff1212">1.5</text>
</svg>
</body></html>
